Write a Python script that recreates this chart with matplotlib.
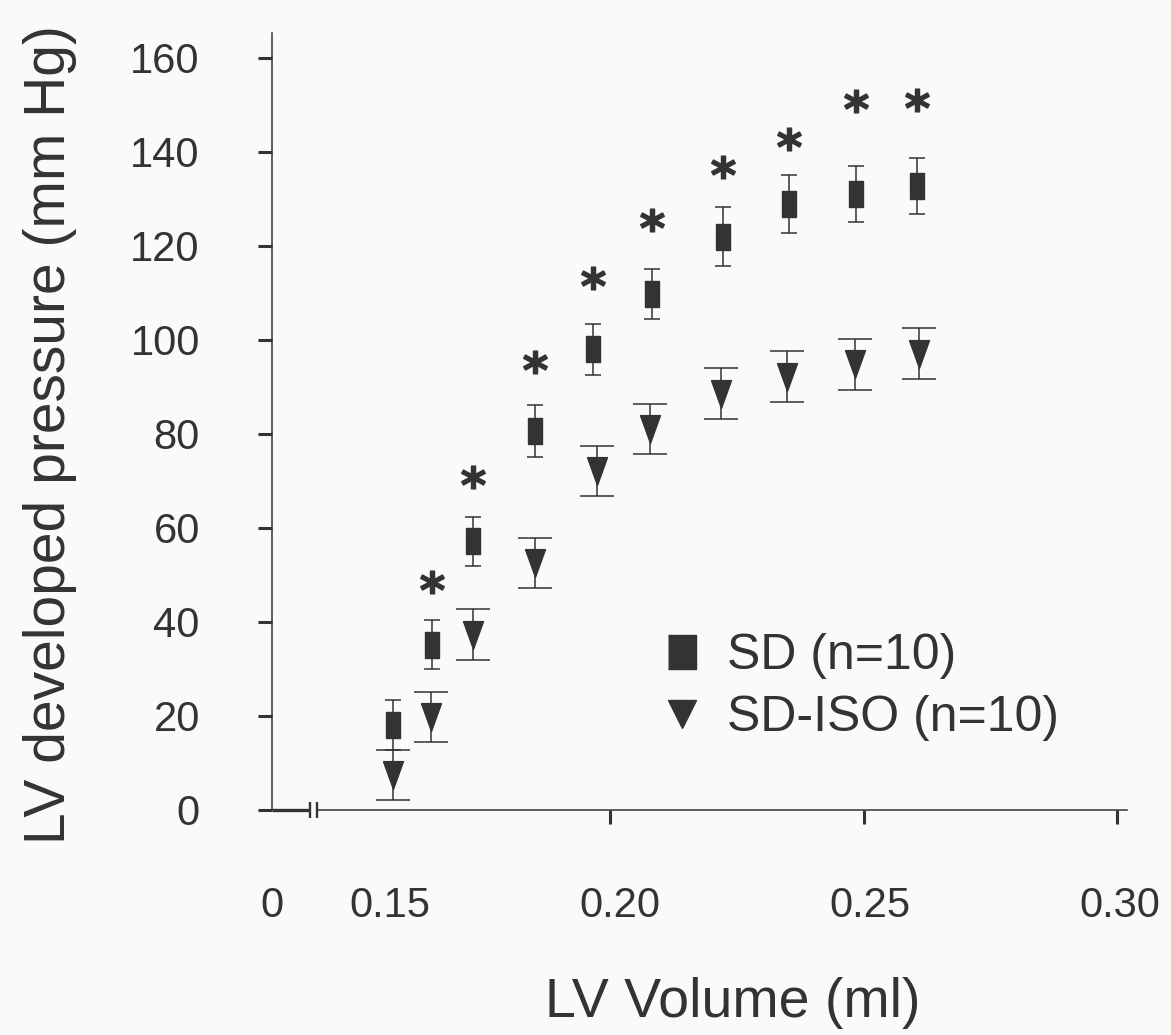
import matplotlib.pyplot as plt
from matplotlib.lines import Line2D

plt.rcParams['font.family'] = ['Liberation Sans', 'DejaVu Sans']

# LV volume (ml) / developed pressure (mm Hg), mean +- SEM
vol_sd = [0.1571, 0.1648, 0.1730, 0.1851, 0.1967, 0.2083, 0.2222, 0.2352, 0.2485, 0.2606]
p_sd = [18.1, 35.2, 57.2, 80.7, 98.0, 109.8, 122.0, 128.9, 131.1, 132.8]
err_sd = [5.4, 5.3, 5.2, 5.5, 5.4, 5.4, 6.2, 6.2, 5.9, 6.0]

vol_iso = [0.1571, 0.1646, 0.1730, 0.1852, 0.1974, 0.2079, 0.2218, 0.2350, 0.2483, 0.2609]
p_iso = [7.5, 19.7, 37.3, 52.6, 72.2, 81.0, 88.6, 92.2, 94.8, 97.1]
err_iso = [5.3, 5.3, 5.4, 5.3, 5.3, 5.3, 5.4, 5.4, 5.4, 5.4]

# significance stars sit above SD points 2..10
star_y = [48.4, 70.8, 95.4, 113.2, 125.6, 136.7, 142.8, 150.8, 151.0]

labels = ['SD (n=10)', 'SD-ISO (n=10)']
yticks = [0, 20, 40, 60, 80, 100, 120, 140, 160]
xticks = [0.20, 0.25, 0.30]
# label positions are drawn a bit right of the ticks in the original
xlabel_pos = [0.1333, 0.1566, 0.2020, 0.2513, 0.3006]
xlabel_txt = ['0', '0.15', '0.20', '0.25', '0.30']

INK = '#333336'
BG = '#fafaf8'
XMIN, XMAX = 0.1333, 0.302
BREAK1, BREAK2 = 0.14073, 0.14221

fig = plt.figure(figsize=(11.71, 10.35), dpi=100, facecolor=BG)
ax = fig.add_axes([0.2323, 0.2174, 0.7302, 0.7507], facecolor=BG)

rect = [(-0.27, -0.5), (0.27, -0.5), (0.27, 0.5), (-0.27, 0.5), (-0.27, -0.5)]
tri = [(-0.36, 0.5), (0.36, 0.5), (0.0, -0.5), (-0.36, 0.5)]

ax.errorbar(vol_iso, p_iso, yerr=err_iso, ls='none', marker=tri, ms=20,
            color=INK, ecolor=INK, elinewidth=1.1, capsize=12, capthick=1.1, zorder=3)
ax.errorbar(vol_sd, p_sd, yerr=err_sd, ls='none', marker=rect, ms=19,
            color=INK, ecolor=INK, elinewidth=1.1, capsize=6, capthick=1.1, zorder=4)
ax.plot(vol_sd[1:], star_y, ls='none', marker=r'$\mathbf{*}$', ms=17, color=INK)

ax.set_xlim(XMIN, XMAX)
ax.set_ylim(0, 165.3)

ax.set_xticks(xticks)
ax.set_xticklabels([])
ax.set_xticks(xlabel_pos, minor=True)
ax.set_xticklabels(xlabel_txt, minor=True)
ax.tick_params(axis='x', which='major', direction='out', length=10, width=2.2, color=INK)
ax.tick_params(axis='x', which='minor', length=0, pad=55, labelsize=30, labelcolor=INK)
ax.set_yticks(yticks)
ax.tick_params(axis='y', direction='out', length=10, width=2.2, pad=42,
               labelsize=30, color=INK, labelcolor=INK)

for s in ['top', 'right']:
    ax.spines[s].set_visible(False)
ax.spines['left'].set_color(INK)
ax.spines['left'].set_linewidth(1.1)
ax.spines['bottom'].set_color(INK)
ax.spines['bottom'].set_linewidth(1.1)
ax.spines['bottom'].set_bounds(BREAK2, XMAX)

# axis break: thick stub, then two bars
ax.plot([XMIN, BREAK1], [0, 0], color=INK, lw=2.4, clip_on=False, solid_capstyle='butt')
for b in [BREAK1, BREAK2]:
    ax.plot([b, b], [-1.7, 1.7], color=INK, lw=1.7, clip_on=False, solid_capstyle='butt')

ax.set_ylabel('LV developed pressure (mm Hg)', fontsize=41, color=INK, va='center')
ax.yaxis.set_label_coords(-0.2596, 0.4826)
ax.set_xlabel('LV Volume (ml)', fontsize=40, color=INK, va='center')
ax.xaxis.set_label_coords(0.539, -0.248)

h_sd = Line2D([], [], ls='none', marker=[(-0.43, -0.5), (0.43, -0.5), (0.43, 0.5), (-0.43, 0.5)],
              ms=24, color=INK)
h_iso = Line2D([], [], ls='none', marker='v', ms=20, color=INK)
ax.legend([h_sd, h_iso], labels, loc='upper left',
          bbox_to_anchor=(657 / 1171, 1 - 633 / 1035), bbox_transform=fig.transFigure,
          frameon=False, fontsize=36, handlelength=1.0, handletextpad=0.4,
          labelspacing=0.32, borderpad=0, borderaxespad=0, labelcolor=INK)

fig.savefig('out.png', dpi=100, facecolor=BG)
